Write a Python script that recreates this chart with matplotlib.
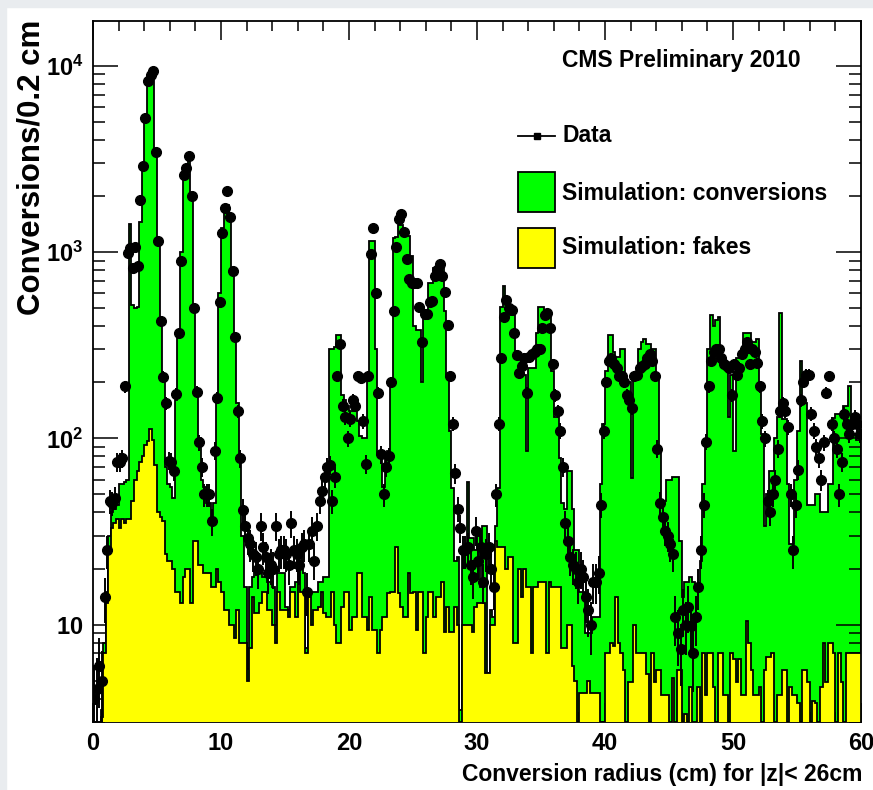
import numpy as np
import matplotlib
matplotlib.use('Agg')
import matplotlib.pyplot as plt
from matplotlib.patches import Rectangle
from matplotlib.lines import Line2D
from matplotlib.ticker import LogLocator, MultipleLocator, FuncFormatter, NullFormatter

plt.rcParams['font.family'] = ['Liberation Sans', 'DejaVu Sans']
plt.rcParams['font.weight'] = 'bold'
plt.rcParams['mathtext.fontset'] = 'custom'
plt.rcParams['mathtext.rm'] = 'Liberation Sans:bold'
plt.rcParams['mathtext.bf'] = 'Liberation Sans:bold'

# 0.2 cm bins from 0 to 60 cm
r_min, r_max, bin_width = 0.0, 60.0, 0.2

# simulation, top of the stack (conversions + fakes), one line per 2 cm
sim_total = [
    0, 0, 0, 3.5, 8, 15, 30, 40, 42, 44,
    57, 57, 58, 60, 1420, 520, 500, 510, 1450, 3000,
    5200, 8400, 9200, 9600, 3500, 1150, 430, 215, 70, 57,
    55, 48, 160, 370, 1000, 2700, 2900, 3300, 2000, 520,
    180, 100, 60, 55, 45, 45, 35, 45, 160, 600,
    1350, 1750, 1800, 1550, 800, 360, 155, 80, 30, 16,
    5.8, 16, 18, 20, 20, 19, 18, 18, 17, 17,
    16, 10, 19, 19, 19, 12.5, 12, 16, 16, 17,
    24, 20, 19, 7.5, 15, 15, 15, 15, 17, 17,
    18, 18, 300, 300, 310, 360, 360, 170, 160, 150,
    140, 140, 140, 124, 103, 100, 100, 210, 1150, 1150,
    300, 82, 82, 55, 78, 85, 200, 1190, 1200, 1400,
    1400, 1220, 1220, 1220, 950, 400, 380, 380, 200, 440,
    440, 680, 680, 820, 820, 820, 820, 480, 220, 110,
    54, 22, 23, 3.5, 25, 25, 58, 29, 29, 25,
    30, 16, 34, 34, 5.5, 12, 11, 34, 54, 510,
    660, 560, 560, 460, 460, 280, 280, 220, 220, 85,
    240, 240, 240, 370, 510, 510, 470, 470, 470, 230,
    130, 130, 78, 45, 42, 67, 67, 42, 25, 25,
    15, 15, 9, 9, 9, 11, 11, 11, 57, 120,
    230, 360, 360, 290, 275, 275, 300, 300, 200, 200,
    61, 220, 220, 300, 330, 340, 320, 320, 300, 300,
    220, 90, 46, 46, 60, 60, 62, 62, 62, 28,
    14, 17, 17, 18, 17, 16, 16, 22, 57, 96,
    300, 460, 400, 430, 450, 280, 260, 250, 130, 220,
    85, 270, 270, 290, 370, 370, 370, 330, 330, 340,
    180, 105, 34, 50, 67, 67, 100, 130, 470, 127,
    127, 57, 27, 27, 60, 110, 260, 155, 155, 44,
    44, 44, 50, 50, 40, 40, 40, 57, 57, 128,
    135, 135, 135, 150, 150, 190, 105, 105, 98, 98,
]

# simulation, fakes only
sim_fakes = [
    0, 0, 0, 3.2, 7, 13, 26, 33, 35, 37,
    33, 37, 35, 37, 37, 46, 60, 67, 75, 80,
    92, 97, 112, 98, 72, 40, 38, 36, 24, 22,
    22, 20, 15, 15, 13, 18, 20, 20, 13, 28,
    28, 21, 21, 19, 19, 19, 16, 16, 20, 17,
    15, 12, 12, 10, 10, 8.5, 12, 8, 8, 8,
    5, 7.5, 14, 11.5, 11.5, 13, 15, 15, 12, 12,
    10, 8, 15, 12, 12, 12, 11, 15, 15, 11,
    20, 15, 15, 7, 14, 10, 12, 12, 12.5, 15,
    11.5, 11, 11, 15, 10, 8, 8, 12.5, 15, 15,
    9.3, 11, 11, 19, 19, 11, 11, 9.3, 14, 9.3,
    9.3, 7, 9.3, 11, 11, 14.7, 15, 15, 26, 14.7,
    12.4, 11, 11, 19, 14.7, 15, 9.3, 15, 15, 7,
    11, 15, 15, 11, 14, 14, 17, 9.1, 12.4, 9.1,
    9.1, 12.4, 10, 0, 10, 10, 10, 10, 9.1, 12.4,
    13, 13, 13, 5.5, 5.5, 10, 10, 28, 26, 26,
    26, 20, 23, 23, 8, 8, 20, 14, 20, 16,
    16, 7, 16, 16, 17, 17, 17, 7, 17, 16,
    16, 16, 16, 7.5, 7.5, 10, 10, 6, 5, 0,
    4.3, 4.3, 4.3, 5, 4.3, 4.3, 4.3, 4.3, 0, 3,
    7, 7, 8, 7.7, 14, 8, 7, 5.7, 0, 4.9,
    4.9, 10, 7, 7, 7, 7, 5.4, 0, 7, 4.9,
    5.7, 5.7, 4.2, 4.2, 4.2, 0, 5.2, 0, 5.7, 5.7,
    0, 3.3, 0, 4.6, 0, 0, 4.6, 0, 7, 4.2,
    7, 7, 4.6, 0, 7, 7, 4.2, 4.2, 0, 7,
    6.5, 4.9, 6.5, 4.2, 4.2, 10.5, 8, 5.7, 4.2, 4.2,
    4.6, 0, 5.7, 6.7, 6.7, 7, 0, 4.2, 4.2, 5.7,
    5.7, 0, 4.6, 4.2, 4.2, 3.8, 0, 5.7, 5.7, 4.9,
    0, 3.9, 3.8, 0, 4.6, 8, 4.9, 8, 8, 7,
    0, 7, 4.9, 0, 7, 7, 7, 7, 7, 7,
]

# data, conversions per 0.2 cm
data_counts = [
    4, 4.5, 6, 5, 14, 25, 46, 45, 48, 75,
    75, 78, 190, 990, 1050, 820, 1070, 840, 1910, 2890,
    5260, 8260, 8980, 9400, 3430, 1140, 424, 214, 154, 76,
    75, 67, 174, 367, 890, 2600, 2830, 3270, 1990, 500,
    178, 95, 70, 50, 50, 50, 36, 86, 165, 540,
    1265, 1730, 2120, 1550, 790, 352, 140, 78, 41, 34,
    29, 27, 24, 23, 20, 34, 26, 23, 19, 21,
    20, 34, 24, 25, 25, 24, 21, 35, 25, 24,
    21, 26, 27, 15, 27, 32, 22, 34, 46, 52,
    62, 70, 72, 46, 62, 215, 320, 150, 130, 100,
    127, 160, 150, 215, 210, 124, 73, 215, 980, 1350,
    600, 175, 82, 50, 70, 80, 200, 485, 1060, 1500,
    1600, 1280, 920, 720, 680, 680, 680, 510, 330, 465,
    465, 540, 545, 740, 800, 860, 740, 610, 405, 215,
    120, 65, 42, 33, 25, 25, 26, 21, 18, 32,
    22, 26, 17, 24, 26, 20, 16, 50, 120, 270,
    450, 555, 500, 490, 370, 280, 225, 245, 270, 175,
    275, 285, 290, 300, 300, 390, 460, 470, 390, 250,
    170, 140, 110, 70, 35, 28, 23, 21, 20, 17,
    20, 18, 14, 12, 10, 17, 17, 19, 44, 110,
    200, 260, 270, 250, 240, 215, 215, 200, 170, 160,
    145, 215, 220, 240, 245, 250, 270, 285, 260, 215,
    88, 45, 38, 32, 30, 27, 24, 11, 9, 7.4,
    12, 10, 12.5, 9.8, 7, 11, 16, 25, 44, 96,
    190, 260, 290, 300, 300, 270, 250, 245, 240, 170,
    250, 220, 240, 285, 300, 330, 250, 300, 290, 255,
    190, 124, 100, 46, 40, 50, 60, 88, 140, 155,
    140, 115, 50, 25, 44, 68, 160, 200, 220, 220,
    135, 110, 90, 78, 60, 95, 175, 215, 120, 100,
    88, 50, 75, 135, 120, 105, 120, 130, 120, 105,
]

labels = ['Data', 'Simulation: conversions', 'Simulation: fakes']

n_bins = len(sim_total)
edges = np.linspace(r_min, r_max, n_bins + 1)
centers = 0.5 * (edges[:-1] + edges[1:])
floor = 1e-2

total = np.array(sim_total, dtype=float)
fakes = np.array(sim_fakes, dtype=float)
data = np.array(data_counts, dtype=float)
total = np.where(total > 0, total, floor)
fakes = np.where(fakes > 0, fakes, floor)

fig = plt.figure(figsize=(8.73, 7.9), dpi=100)
fig.patches.append(Rectangle((0, 0), 6 / 873, 1, transform=fig.transFigure,
                             color='#e9ecef', zorder=-5))
fig.patches.append(Rectangle((0, 1 - 7 / 790), 1, 7 / 790, transform=fig.transFigure,
                             color='#e9ecef', zorder=-5))

ax = fig.add_axes([93 / 873, 68 / 790, 768 / 873, 701 / 790])
ax.set_yscale('log')

# stacked simulation: total (green) then fakes (yellow) on top
ax.stairs(total, edges, baseline=floor, fill=True, color='#00ff00', lw=0, zorder=1)
ax.stairs(total, edges, baseline=floor, color='black', lw=1.3, zorder=2)
ax.stairs(fakes, edges, baseline=floor, fill=True, color='#ffff00', lw=0, zorder=3)
ax.stairs(fakes, edges, baseline=floor, color='black', lw=1.3, zorder=4)

ax.errorbar(centers, data, yerr=np.sqrt(data), xerr=bin_width / 2, fmt='o',
            color='black', ms=7, elinewidth=1.4, capsize=0, zorder=5)

ax.set_xlim(r_min, r_max)
ax.set_ylim(3, 1.74e4)

ax.xaxis.set_major_locator(MultipleLocator(10))
ax.xaxis.set_minor_locator(MultipleLocator(2))
ax.yaxis.set_major_locator(LogLocator(base=10))
ax.yaxis.set_minor_locator(LogLocator(base=10, subs=np.arange(2, 10)))
ax.yaxis.set_minor_formatter(NullFormatter())


def log_label(v, pos):
    e = int(round(np.log10(v)))
    if e == 1:
        return r'$\mathbf{10}$'
    return r'$\mathbf{10^{%d}}$' % e


ax.yaxis.set_major_formatter(FuncFormatter(log_label))

ax.tick_params(which='both', direction='in', top=True, right=True, width=1.1)
ax.tick_params(axis='x', which='major', length=14, pad=7, labelsize=17)
ax.tick_params(axis='x', which='minor', length=7)
ax.tick_params(axis='y', which='major', length=18, pad=7, labelsize=17)
ax.tick_params(axis='y', which='minor', length=8.5)
for lab in ax.get_xticklabels():
    lab.set_fontweight('bold')
for sp in ax.spines.values():
    sp.set_linewidth(1.3)

# legend and header, drawn by hand in axes coordinates
def ax_pt(px, py):
    return (px - 93) / 768, (722 - py) / 701

tx, ty = ax_pt(562, 61)
ax.text(tx, ty, 'CMS Preliminary 2010', transform=ax.transAxes, fontsize=16.5,
        fontweight='bold', ha='left', va='center')

x0, _ = ax_pt(518, 0)
x1, _ = ax_pt(555, 0)
_, yd = ax_pt(0, 136)
ax.add_line(Line2D([x0, x1], [yd, yd], transform=ax.transAxes, color='black', lw=1.3))
ax.add_line(Line2D([(x0 + x1) / 2], [yd], transform=ax.transAxes, color='black',
                   marker='s', ms=4.5))
for (top, bot, color) in [(172, 212, '#00ff00'), (228, 268, '#ffff00')]:
    _, yb = ax_pt(0, bot)
    _, yt = ax_pt(0, top)
    ax.add_patch(Rectangle((x0, yb), x1 - x0, yt - yb, transform=ax.transAxes,
                           facecolor=color, edgecolor='black', lw=1.3, zorder=6))
for label, py in zip(labels, [136, 193, 248]):
    ax.text(tx, ax_pt(0, py)[1], label, transform=ax.transAxes, fontsize=16.5,
            fontweight='bold', ha='left', va='center')

fig.text(862 / 873, 1 - 775 / 790, 'Conversion radius (cm) for |z|< 26cm',
         fontsize=16.5, fontweight='bold', ha='right', va='center')
fig.text(32 / 873, 1 - 20 / 790, 'Conversions/0.2 cm', rotation=90,
         fontsize=22.5, fontweight='bold', ha='center', va='top')

fig.savefig('out.png', dpi=100)
